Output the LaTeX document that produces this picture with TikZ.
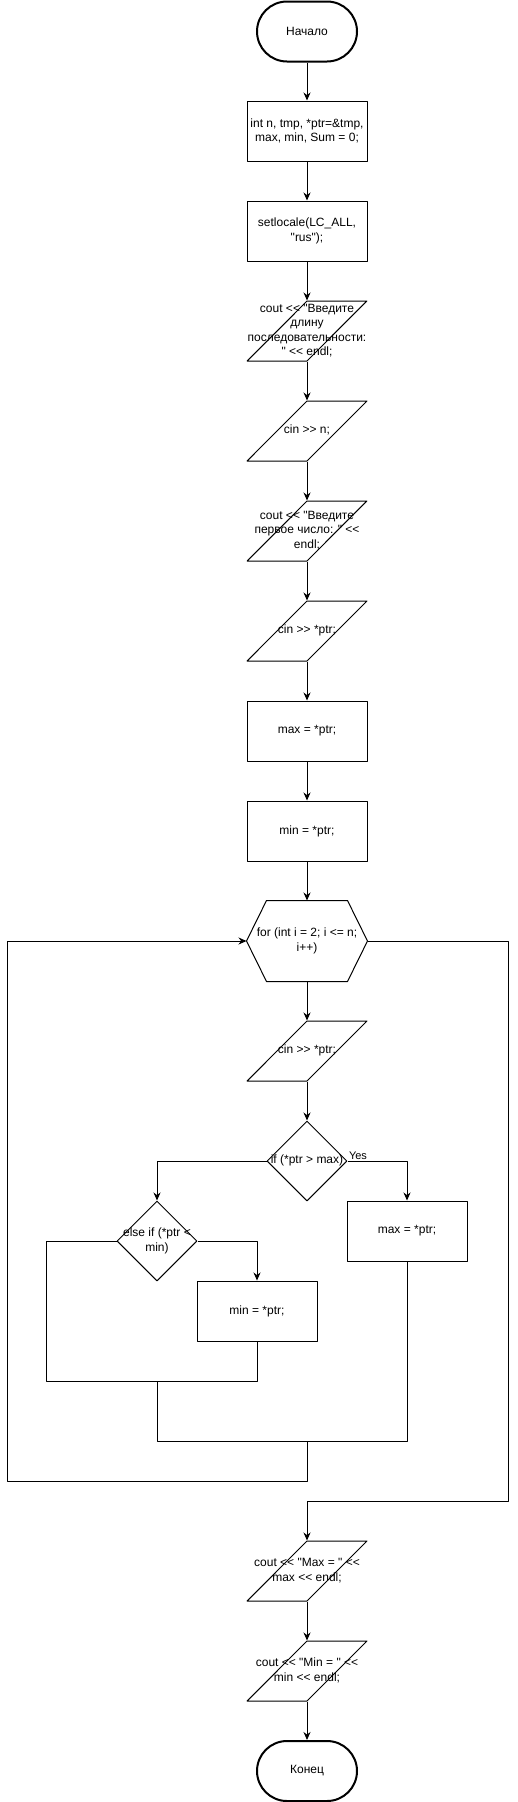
\documentclass[tikz,border=0pt]{standalone}
\usepackage{fontspec}
\setmainfont{Liberation Sans}[Ligatures=TeXOff]
\usetikzlibrary{shapes.geometric,arrows.meta}
\newcommand\ztxt[1]{\makebox[0pt]{\begin{tabular}{@{}c@{}}#1\end{tabular}}}
\begin{document}
\begin{tikzpicture}[x=1pt,y=-1pt,line join=round,line width=1pt,
	font=\fontsize{12}{14.5}\selectfont,>={Stealth[length=8pt,width=7pt]},
	term/.style={draw,line width=2pt,rounded corners=30pt,minimum width=100,minimum height=60},
	proc/.style={draw,minimum width=120,minimum height=60,align=center},
	io/.style={draw,trapezium,trapezium left angle=71.57,trapezium right angle=108.43,trapezium stretches=true,minimum width=120,minimum height=60,inner sep=0},
	cond/.style={draw,diamond,minimum width=80,minimum height=80,inner sep=0},
	hexa/.style={minimum width=120,minimum height=80,align=center,inner sep=0}]
	%==Khung hình
	\useasboundingbox (0,0) rectangle (517,1802);
	\def\cx{307}
	%==============
	\node[term] (start) at (\cx,31.5) {Начало};
	\node[proc] (decl) at (\cx,131) {int n, tmp, *ptr=\&tmp,\\max, min, Sum = 0;};
	\node[proc] (loc) at (\cx,231) {setlocale(LC\_ALL,\\"rus");};
	\node[io] (askn) at (\cx,331) {\ztxt{cout << "Введите\\длину\\последовательности:\\" << endl;}};
	\node[io] (readn) at (\cx,431) {\ztxt{cin >> n;}};
	\node[io] (askx) at (\cx,531) {\ztxt{cout << "Введите\\первое число: " <<\\endl;}};
	\node[io] (readx) at (\cx,631) {\ztxt{cin >> *ptr;}};
	\node[proc] (setmax) at (\cx,731) {max = *ptr;};
	\node[proc] (setmin) at (\cx,831) {min = *ptr;};
	\node[hexa] (loop) at (\cx,941) {for (int i = 2; i <= n;\\i++)};
	\draw (loop.west)--([xshift=20]loop.north west)--([xshift=-20]loop.north east)--(loop.east)
		--([xshift=-20]loop.south east)--([xshift=20]loop.south west)--cycle;
	\node[io] (readi) at (\cx,1051) {\ztxt{cin >> *ptr;}};
	\node[cond] (ifmax) at (\cx,1161) {\ztxt{if (*ptr > max)}};
	\node[cond] (elsemin) at (157,1241) {\ztxt{else if (*ptr <\\min)}};
	\node[proc] (newmax) at (407,1231) {max = *ptr;};
	\node[proc] (newmin) at (257,1311) {min = *ptr;};
	\node[io] (outmax) at (\cx,1571) {\ztxt{cout << "Max = " <<\\max << endl;}};
	\node[io] (outmin) at (\cx,1671) {\ztxt{cout << "Min = " <<\\min << endl;}};
	\node[term] (stop) at (\cx,1771) {Конец};
	\coordinate (j1) at (157,1381);
	\coordinate (j2) at (\cx,1441);
	\coordinate (back) at (7,1481);
	\coordinate (exit) at (508,1501);
	\coordinate (j4) at (\cx,1501);
	\foreach \a/\b in {start/decl,decl/loc,loc/askn,askn/readn,readn/askx,askx/readx,readx/setmax,setmax/setmin,setmin/loop,loop/readi,readi/ifmax,outmax/outmin,outmin/stop}\draw[->] (\a)--(\b);
	\draw[->] (ifmax.west) -| (elsemin.north);
	\draw[->] (ifmax.east) -| node[pos=0,above right,inner sep=1pt,font=\fontsize{11}{13}\selectfont] (yes) {Yes} (newmax.north);
	\draw[->] (elsemin.east) -| (newmin.north);
	\draw (elsemin.west) -- ++(-70,0) |- (j1) -| (newmin.south);
	\draw (j1) |- (j2) -| (newmax.south);
	\draw[->] (j2) |- (back) |- (loop.west);
	\draw[->] (loop.east) -| (exit) -- (j4) -- (outmax.north);
\end{tikzpicture}
\end{document}
